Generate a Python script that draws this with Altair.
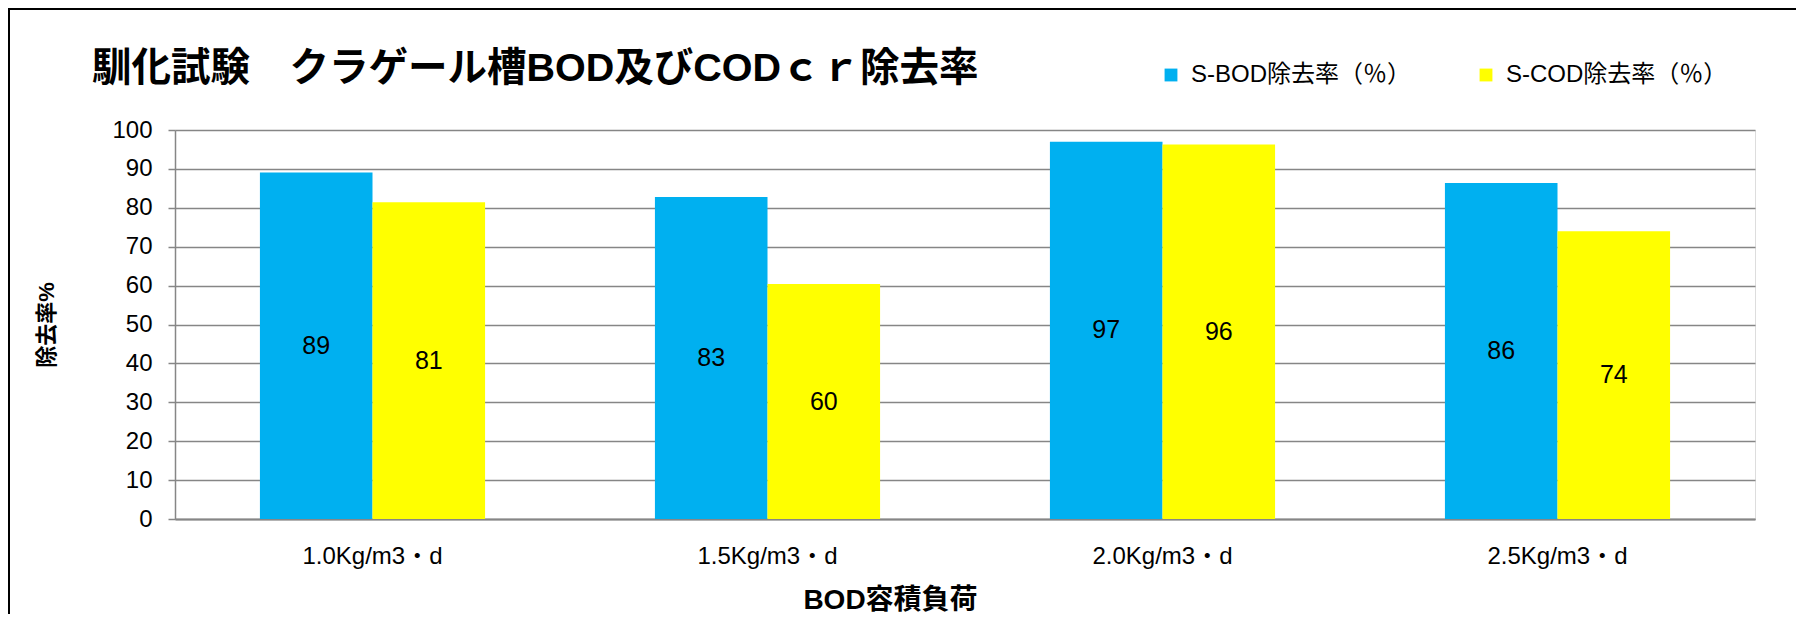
import altair as alt
import pandas as pd

categories = ["1.0Kg/m3・d", "1.5Kg/m3・d", "2.0Kg/m3・d", "2.5Kg/m3・d"]
series_names = ["S-BOD除去率（％）", "S-COD除去率（％）"]
bod_values = [89.1, 82.8, 97.0, 86.4]
cod_values = [81.4, 60.4, 96.3, 74.0]
series_colors = ["#00B0F0", "#FFFF00"]
y_ticks = [0, 10, 20, 30, 40, 50, 60, 70, 80, 90, 100]
chart_title = "馴化試験　クラゲール槽BOD及びCODｃｒ除去率"

rows = []
for c, b, d in zip(categories, bod_values, cod_values):
    rows.append({"cat": c, "series": series_names[0], "value": b})
    rows.append({"cat": c, "series": series_names[1], "value": d})
df = pd.DataFrame(rows)

FONT = "Liberation Sans, Arial, Noto Sans CJK JP, sans-serif"
GRID = "#868686"

x_scale = alt.Scale(paddingInner=0.43, paddingOuter=0.215)
x_axis = alt.Axis(
    title="BOD容積負荷",
    titleFont=FONT,
    titleFontSize=28,
    titleFontWeight="bold",
    titleColor="black",
    titleX=715,
    titleY=81,
    titleAlign="center",
    titleBaseline="middle",
    labelFont=FONT,
    labelFontSize=24,
    labelColor="black",
    labelAngle=0,
    labelBaseline="middle",
    labelPadding=37,
    labelLimit=0,
    ticks=False,
    tickSize=0,
    domainColor=GRID,
    domainWidth=2,
    grid=False,
)
y_scale = alt.Scale(domain=[0, 100], nice=False)
y_axis = alt.Axis(
    title="除去率%",
    titleFont=FONT,
    titleFontSize=22,
    titleFontWeight="bold",
    titleColor="black",
    titleAngle=-90,
    titleX=-129,
    titleY=194.5,
    titleAlign="center",
    titleBaseline="middle",
    values=y_ticks,
    labelOverlap=False,
    labelFont=FONT,
    labelFontSize=24,
    labelColor="black",
    labelPadding=16,
    tickSize=7,
    tickColor=GRID,
    tickWidth=1.5,
    domainColor=GRID,
    domainWidth=1.5,
    gridColor=GRID,
    gridWidth=1.5,
    gridOpacity=1,
)
xoff_scale = alt.Scale(paddingInner=0, paddingOuter=0)

bars = alt.Chart(df).mark_bar().encode(
    x=alt.X("cat:N", sort=categories, scale=x_scale, axis=x_axis),
    xOffset=alt.XOffset("series:N", sort=series_names, scale=xoff_scale),
    y=alt.Y("value:Q", scale=y_scale, axis=y_axis),
    color=alt.Color(
        "series:N",
        title=None,
        scale=alt.Scale(domain=series_names, range=series_colors),
        legend=alt.Legend(
            orient="none",
            legendX=984,
            legendY=-67,
            direction="horizontal",
            columnPadding=62,
            symbolType="square",
            symbolSize=165,
            symbolStrokeWidth=0,
            symbolOpacity=1,
            labelFont=FONT,
            labelFontSize=24,
            labelColor="black",
            labelOffset=8,
            labelLimit=0,
            padding=0,
        ),
    ),
)

texts = alt.Chart(df).transform_calculate(half="datum.value / 2").mark_text(
    font=FONT, fontSize=25, color="black", baseline="middle", align="center"
).encode(
    x=alt.X("cat:N", sort=categories, scale=x_scale, axis=x_axis),
    xOffset=alt.XOffset("series:N", sort=series_names, scale=xoff_scale),
    y=alt.Y("half:Q", scale=y_scale, axis=y_axis),
    text=alt.Text("value:Q", format=".0f"),
)

title_mark = alt.Chart(alt.Data(values=[{"t": chart_title}])).mark_text(
    font=FONT, fontSize=39.5, fontWeight="bold", color="black", align="left", baseline="middle"
).encode(
    x=alt.value(-83), y=alt.value(-61), text="t:N"
)

frame = alt.Chart(alt.Data(values=[{"k": 1}])).mark_rect(
    filled=False, stroke="black", strokeWidth=2
).encode(
    x=alt.value(-166), x2=alt.value(1623), y=alt.value(-121), y2=alt.value(620)
)

chart = alt.layer(bars, texts, title_mark, frame).properties(
    width=1580,
    height=389,
    padding={"left": 167, "top": 122, "right": 41, "bottom": 95},
    autosize=alt.AutoSizeParams(type="none"),
).configure_view(stroke=None).configure(background="white")

chart.save("out.html", embed_options={"renderer": "svg", "actions": False})
